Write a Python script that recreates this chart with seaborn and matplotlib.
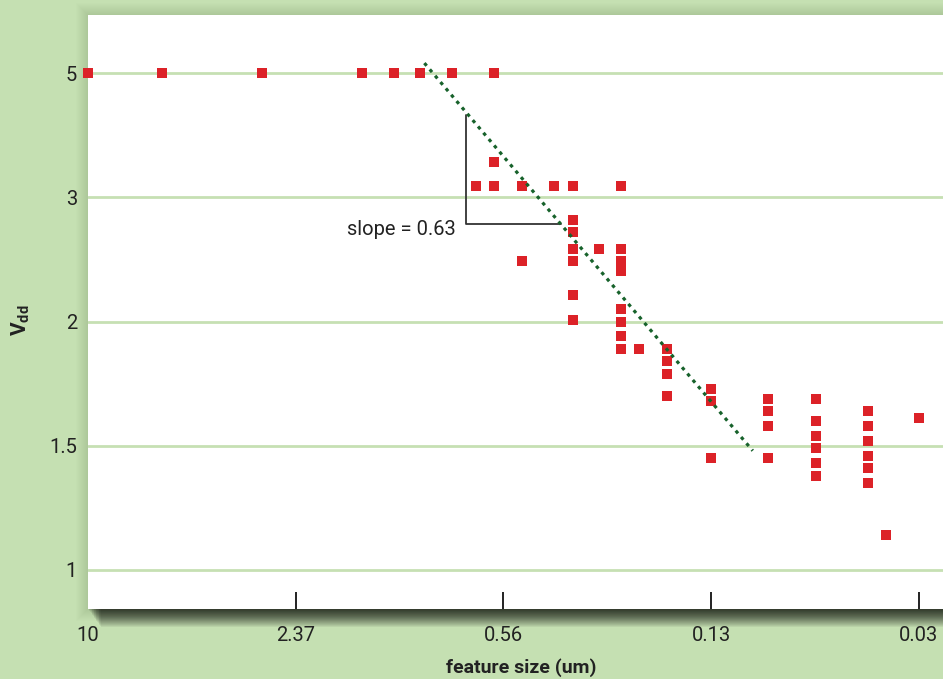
import numpy as np
import pandas as pd
import matplotlib
matplotlib.use('Agg')
import matplotlib.pyplot as plt
from matplotlib.patches import Rectangle
import seaborn as sns

# Data (feature size in um, supply voltage Vdd)
feature_size = [10, 6, 3, 1.5, 1.2, 1.0, 0.8, 0.6,
                0.6,
                0.68, 0.6, 0.493, 0.394, 0.344, 0.245,
                0.344, 0.344, 0.344, 0.287, 0.245,
                0.493, 0.344, 0.245, 0.245,
                0.344, 0.245, 0.344, 0.245, 0.245, 0.245, 0.216,
                0.178, 0.178, 0.178, 0.178,
                0.13, 0.13, 0.13,
                0.087, 0.087, 0.087, 0.087,
                0.062, 0.062, 0.062, 0.062, 0.062, 0.062,
                0.043, 0.043, 0.043, 0.043, 0.043, 0.043,
                0.03, 0.038]
vdd = [5, 5, 5, 5, 5, 5, 5, 5,
       3.57,
       3.18, 3.18, 3.18, 3.18, 3.18, 3.18,
       2.82, 2.72, 2.58, 2.58, 2.58,
       2.49, 2.49, 2.49, 2.41,
       2.21, 2.10, 2.01, 2.0, 1.94, 1.89, 1.89,
       1.89, 1.84, 1.79, 1.70,
       1.73, 1.68, 1.45,
       1.69, 1.64, 1.58, 1.45,
       1.69, 1.60, 1.54, 1.49, 1.43, 1.38,
       1.64, 1.58, 1.52, 1.46, 1.41, 1.35,
       1.61, 1.14]

x_ticks = [10, 2.37, 0.56, 0.13, 0.03]
x_tick_labels = ['10', '2.37', '0.56', '0.13', '0.03']
y_ticks = [1, 1.5, 2, 3, 5]
y_tick_labels = ['1', '1.5', '2', '3', '5']

trend_x = [0.97, 0.097]
trend_y = [5.16, 1.48]
tri_x = [0.729, 0.729, 0.375]
tri_y = [4.32, 2.785, 2.785]

df = pd.DataFrame({'feature_size': feature_size, 'vdd': vdd})

# Axes in the original are evenly spaced between the tick values
x_anchor = np.log10([0.03 / 4.33] + x_ticks[::-1] + [42.2])
x_pos = np.array([5, 4, 3, 2, 1, 0, -1], dtype=float)
y_anchor = np.array([0.5] + y_ticks + [7])
y_pos = np.arange(-1, 6, dtype=float)


def x_fwd(v):
    return np.interp(np.log10(np.clip(v, 1e-6, None)), x_anchor, x_pos)


def x_inv(p):
    return 10 ** np.interp(p, x_pos[::-1], x_anchor[::-1])


def y_fwd(v):
    return np.interp(v, y_anchor, y_pos)


def y_inv(p):
    return np.interp(p, y_pos, y_anchor)


sns.set_style('white')
plt.rcParams['font.family'] = ['Roboto', 'DejaVu Sans']
plt.rcParams['mathtext.fontset'] = 'custom'
plt.rcParams['mathtext.bf'] = 'Roboto:bold'
plt.rcParams['mathtext.rm'] = 'Roboto'

bg = '#c5e0b2'
text_col = '#222222'
W, H = 943, 679

fig = plt.figure(figsize=(9.43, 6.79), dpi=100, facecolor=bg)
L, R, T, B = 88, 946, 15, 609
ax = fig.add_axes([L / W, 1 - B / H, (R - L) / W, (B - T) / H])

# soft shadow behind the plot panel
for k in range(1, 13):
    fig.add_artist(Rectangle(((L - k) / W, 1 - (B + k) / H), (R - L + 2 * k) / W, (B - T + 2 * k) / H,
                             transform=fig.transFigure, facecolor='black', alpha=0.007,
                             edgecolor='none', zorder=-2))
for k in range(1, 19):
    fig.add_artist(Rectangle(((L + 0.7 * k) / W, 1 - (B + k) / H), (R - L) / W, (B - T) / H,
                             transform=fig.transFigure, facecolor='black', alpha=0.06,
                             edgecolor='none', zorder=-1))

ax.set_xscale('function', functions=(x_fwd, x_inv))
ax.set_yscale('function', functions=(y_fwd, y_inv))

sns.scatterplot(data=df, x='feature_size', y='vdd', marker='s', s=48, color='#dc2228',
                linewidth=0, ax=ax, zorder=3, clip_on=False)

ax.plot(trend_x, trend_y, color='#17622b', lw=2.3, linestyle=(0, (1.1, 1.5)), zorder=4)
ax.plot(tri_x, tri_y, color='#333333', lw=1.3, zorder=2)
ax.text(0.782, 2.744, 'slope = 0.63', ha='right', va='center', fontsize=14.5, color=text_col)

# forward map decreases, so give the limits low -> high to keep 10 on the left
ax.set_xlim(x_inv(4.13), 10)
ax.set_ylim(y_inv(-0.314), y_inv(4.467))
ax.set_xticks(x_ticks)
ax.set_xticklabels(x_tick_labels)
ax.set_yticks(y_ticks)
ax.set_yticklabels(y_tick_labels)
ax.minorticks_off()

ax.grid(axis='y', color='#c6e0b3', lw=2)
ax.grid(axis='x', visible=False)
for s in ax.spines.values():
    s.set_visible(False)

ax.tick_params(axis='x', direction='in', length=12, width=1.4, color='#222222',
               pad=12, labelsize=14.5, labelcolor=text_col, bottom=True)
ax.tick_params(axis='y', length=0, pad=8, labelsize=14.5, labelcolor=text_col)
for t in ax.xaxis.get_major_ticks():
    if abs(t.get_loc() - 10) < 1e-9:
        t.tick1line.set_visible(False)

ax.set_xlabel('')
ax.set_ylabel('')
fig.text(521 / W, 1 - 668 / H, 'feature size (um)', ha='center', va='center',
         fontsize=14, fontweight='bold', color=text_col)
fig.text(21 / W, 1 - 320 / H, r'$\mathbf{V_{dd}}$', ha='center', va='center',
         rotation=90, fontsize=15, color=text_col)

fig.savefig('out.png', dpi=100, facecolor=bg)
